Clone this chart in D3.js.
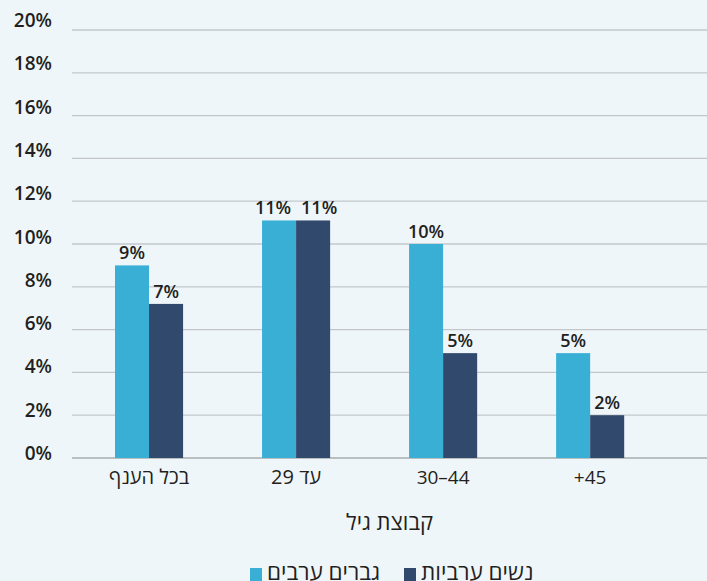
<!DOCTYPE html>
<html>
<head>
<meta charset="utf-8">
<script src="https://cdn.jsdelivr.net/npm/d3@7"></script>
<style>
  body { margin: 0; background: #eff6fa; }
  svg { display: block; font-family: "Open Sans", "Noto Sans", "DejaVu Sans", sans-serif; }
</style>
</head>
<body>
<div id="chart"></div>
<script>
// age groups and values
var ageGroups = ["בכל הענף", "עד 29", "30–44", "+45"];
var arabMen = [9.0, 11.1, 10.0, 4.9];
var arabWomen = [7.2, 11.1, 4.9, 2.0];
var menLabels = ["9%", "11%", "10%", "5%"];
var womenLabels = ["7%", "11%", "5%", "2%"];
var yTicks = [0, 2, 4, 6, 8, 10, 12, 14, 16, 18, 20];

var seriesNames = ["גברים ערבים", "נשים ערביות"];
var colors = ["#3aafd6", "#30496c"];

var W = 707, H = 581;
var plotLeft = 72, plotRight = 707, plotTop = 30, plotBottom = 458;

var svg = d3.select("#chart").append("svg")
    .attr("width", W)
    .attr("height", H);

svg.append("rect").attr("width", W).attr("height", H).attr("fill", "#eff6fa");

var y = d3.scaleLinear().domain([0, 20]).range([plotBottom, plotTop]);
var x = d3.scaleBand()
    .domain(ageGroups)
    .range([75.6, 663.6])
    .paddingInner(0.537)
    .paddingOuter(0.268);
var x1 = d3.scaleBand().domain([0, 1]).range([0, x.bandwidth()]);

// grid lines
svg.append("g").selectAll("line")
    .data(yTicks)
    .enter().append("line")
    .attr("x1", plotLeft).attr("x2", plotRight)
    .attr("y1", d => y(d)).attr("y2", d => y(d))
    .attr("stroke", d => d === 0 ? "#a9acaf" : "#c3c7cb")
    .attr("stroke-width", 1.3);

// y labels
svg.append("g").selectAll("text")
    .data(yTicks)
    .enter().append("text")
    .attr("x", 52)
    .attr("y", d => y(d) - 3 - 5 * d / 20)
    .attr("text-anchor", "end")
    .attr("dominant-baseline", "middle")
    .style("font-size", "19px")
    .style("font-weight", 600)
    .attr("fill", "#231f20")
    .text(d => d + "%");

var series = [
  {vals: arabMen, labels: menLabels},
  {vals: arabWomen, labels: womenLabels}
];

var labelNodes = [[], []];
series.forEach(function(s, si){
    var g = svg.append("g");
    g.selectAll("rect")
        .data(ageGroups)
        .enter().append("rect")
        .attr("x", d => x(d) + x1(si))
        .attr("y", (d, i) => y(s.vals[i]))
        .attr("width", x1.bandwidth())
        .attr("height", (d, i) => plotBottom - y(s.vals[i]))
        .attr("fill", colors[si]);
    g.selectAll("text")
        .data(ageGroups)
        .enter().append("text")
        .attr("x", d => x(d) + x1(si) + x1.bandwidth() / 2)
        .attr("y", (d, i) => y(s.vals[i]) - 6)
        .attr("text-anchor", "middle")
        .style("font-size", "18px")
        .style("font-weight", 600)
        .attr("fill", "#231f20")
        .text((d, i) => s.labels[i])
        .each(function(d, i){ labelNodes[si][i] = this; });
});

// push apart value labels that sit at the same height and collide
ageGroups.forEach(function(d, i){
    if (Math.abs(arabMen[i] - arabWomen[i]) > 1) return;
    var a = labelNodes[0][i], b = labelNodes[1][i];
    var need = (a.getComputedTextLength() + b.getComputedTextLength()) / 2 + 10;
    var gap = x1.bandwidth();
    if (need > gap) {
        var shift = (need - gap) / 2;
        d3.select(a).attr("dx", -shift);
        d3.select(b).attr("dx", shift);
    }
});

// x labels (numeric ones kept left-to-right)
svg.append("g").selectAll("text")
    .data(ageGroups)
    .enter().append("text")
    .attr("x", d => x(d) + x.bandwidth() / 2)
    .attr("y", 484)
    .attr("text-anchor", "middle")
    .attr("direction", (d, i) => i < 2 ? "rtl" : "ltr")
    .style("font-size", (d, i) => i < 2 ? "20px" : "19px")
    .attr("fill", "#231f20")
    .text(d => d);

// axis title
svg.append("text")
    .attr("x", (plotLeft + plotRight) / 2)
    .attr("y", 530)
    .attr("text-anchor", "middle")
    .style("font-size", "22px")
    .attr("fill", "#231f20")
    .text("קבוצת גיל");

// legend
var legendX = [250, 404];
seriesNames.forEach(function(name, i){
    svg.append("rect")
        .attr("x", legendX[i]).attr("y", 568)
        .attr("width", 12).attr("height", 13)
        .attr("fill", colors[i]);
    svg.append("text")
        .attr("x", legendX[i] + 17)
        .attr("y", 580)
        .attr("direction", "rtl")
        .attr("text-anchor", "end")
        .style("font-size", "22.5px")
        .attr("fill", "#231f20")
        .text(name);
});
</script>
</body>
</html>
